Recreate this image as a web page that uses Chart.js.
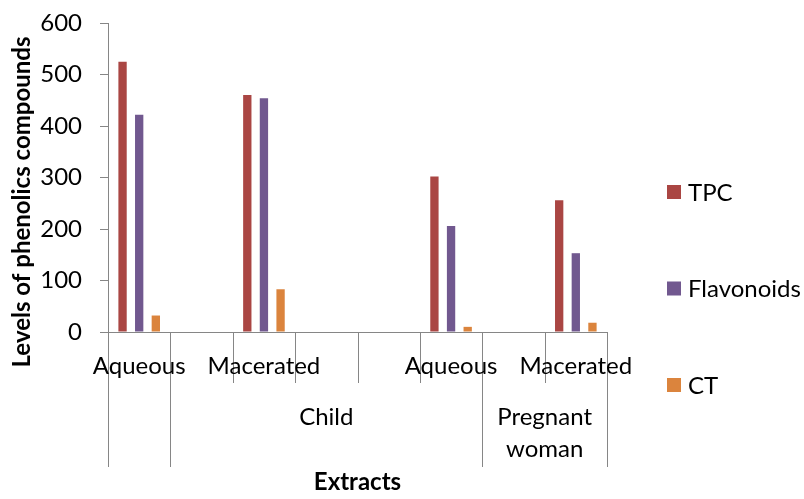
<!DOCTYPE html>
<html lang="en">

<head>
    <meta charset="UTF-8">
    <title>Levels of phenolics compounds</title>
    <script src="https://cdn.jsdelivr.net/npm/chart.js"></script>
    <style>
        body { margin: 0; background: #fff; }
        #caixa_grafico { width: 804px; height: 499px; }
    </style>
</head>

<body>
    <div id="caixa_grafico">
        <canvas id="graficoFenolicos"></canvas>
    </div>

<script>
    // categories (first level) - empty rows are kept as in the sheet
    const categorias = ['Aqueous', '', 'Macerated', '', '', 'Aqueous', '', 'Macerated'];
    // second level groups: label lines and first category index
    const grupos = [[''], ['Child'], ['Pregnant', 'woman']];
    const inicioGrupos = [0, 1, 6];

    // series values
    const valoresTPC = [525, null, 460, null, null, 302, null, 256];
    const valoresFlavonoids = [422, null, 454, null, null, 206, null, 153];
    const valoresCT = [32, null, 83, null, null, 10, null, 18];

    const nomesSeries = ['TPC', 'Flavonoids', 'CT'];
    const coresSeries = ['#AA4643', '#71588F', '#DB843D'];

    const tituloY = 'Levels of phenolics compounds';
    const tituloX = 'Extracts';

    const corEixo = '#868686';
    const fonte = 'Lato';

    // draws the two level category axis, the titles and the legend
    const eixoMultiNivel = {
        id: 'eixoMultiNivel',
        afterDraw(chart) {
            const ctx = chart.ctx;
            const x = chart.scales.x;
            const area = chart.chartArea;
            const largura = x.getPixelForValue(1) - x.getPixelForValue(0);
            const inicio = x.getPixelForValue(0) - largura / 2;

            ctx.save();
            ctx.strokeStyle = corEixo;
            ctx.lineWidth = 1;

            // tick lines between categories
            for (let i = 0; i <= categorias.length; i++) {
                let px = Math.round(inicio + i * largura) + 0.5;
                let longo = inicioGrupos.includes(i) || i == categorias.length;
                ctx.beginPath();
                ctx.moveTo(px, area.bottom);
                ctx.lineTo(px, longo ? area.bottom + 135 : area.bottom + 51);
                ctx.stroke();
            }

            ctx.fillStyle = '#000';
            ctx.textAlign = 'center';
            ctx.textBaseline = 'middle';
            ctx.font = `24px ${fonte}`;

            // first level labels
            for (let i = 0; i < categorias.length; i++) {
                ctx.fillText(categorias[i], x.getPixelForValue(i), area.bottom + 34);
            }

            // second level labels
            for (let g = 0; g < grupos.length; g++) {
                let fim = g + 1 < inicioGrupos.length ? inicioGrupos[g + 1] : categorias.length;
                let centro = inicio + (inicioGrupos[g] + fim) / 2 * largura;
                for (let l = 0; l < grupos[g].length; l++) {
                    ctx.fillText(grupos[g][l], centro, area.bottom + 85 + l * 32);
                }
            }

            // axis titles
            ctx.font = `bold 24px ${fonte}`;
            ctx.fillText(tituloX, (area.left + area.right) / 2, area.bottom + 150);

            ctx.save();
            ctx.translate(22, 202);
            ctx.rotate(-Math.PI / 2);
            ctx.fillText(tituloY, 0, 0);
            ctx.restore();

            // legend
            ctx.font = `24px ${fonte}`;
            ctx.textAlign = 'left';
            chart.data.datasets.forEach(function (ds, i) {
                let cy = 192 + i * 96.5;
                ctx.fillStyle = ds.backgroundColor;
                ctx.fillRect(667, cy - 7, 14, 14);
                ctx.fillStyle = '#000';
                ctx.fillText(ds.label, 688, cy + 1);
            });

            ctx.restore();
        }
    };

    const dados = {
        labels: categorias,
        datasets: [
            { label: nomesSeries[0], data: valoresTPC, backgroundColor: coresSeries[0] },
            { label: nomesSeries[1], data: valoresFlavonoids, backgroundColor: coresSeries[1] },
            { label: nomesSeries[2], data: valoresCT, backgroundColor: coresSeries[2] }
        ]
    };

    const config = {
        type: 'bar',
        data: dados,
        options: {
            responsive: true,
            maintainAspectRatio: false,
            animation: false,
            categoryPercentage: 0.8,
            barPercentage: 0.5,
            layout: { padding: { left: 0, top: 23, right: 197, bottom: 0 } },
            plugins: {
                legend: { display: false },
                tooltip: { enabled: false }
            },
            scales: {
                x: {
                    offset: true,
                    ticks: { display: false },
                    grid: { display: false },
                    border: { color: corEixo, width: 1 },
                    afterFit: function (s) { s.height = 167; s.paddingLeft = 0; s.paddingRight = 0; }
                },
                y: {
                    min: 0,
                    max: 600,
                    ticks: {
                        stepSize: 100,
                        padding: 18,
                        color: '#000',
                        font: { family: fonte, size: 24 }
                    },
                    grid: { drawOnChartArea: false, tickLength: 8, color: corEixo },
                    border: { color: corEixo, width: 1 },
                    afterFit: function (s) { s.width = 108; s.paddingTop = 0; s.paddingBottom = 0; }
                }
            }
        },
        plugins: [eixoMultiNivel]
    };

    let grafico = new Chart(document.getElementById('graficoFenolicos'), config);
</script>
</body>

</html>
